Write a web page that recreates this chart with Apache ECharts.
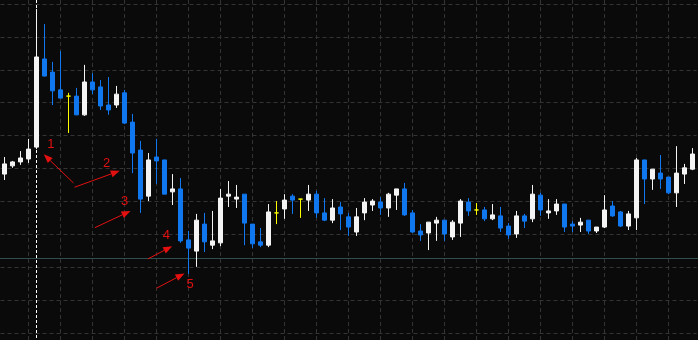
<!DOCTYPE html>
<html>
<head>
<meta charset="utf-8">
<script src="https://cdn.jsdelivr.net/npm/echarts@6/dist/echarts.min.js"></script>
<style>
html,body{margin:0;padding:0;background:#0a0a0a;}
#c{width:698px;height:340px;}
</style>
</head>
<body>
<div id="c"></div>
<script>
// ---- data ----
const opens = [2448.3,2450.8,2452.0,2452.9,2456.5,2483.3,2479.3,2473.9,2472.0,2472.0,
2466.3,2476.3,2474.8,2469.3,2469.3,2473.0,2464.1,2455.6,2441.6,2453.5,
2452.6,2442.9,2443.8,2428.3,2424.9,2433.1,2426.7,2427.4,2441.6,2440.7,
2442.2,2433.1,2427.7,2426.7,2436.5,2437.7,2441.6,2440.7,2440.4,2442.2,
2436.5,2434.3,2438.3,2435.3,2430.7,2436.5,2438.9,2439.8,2438.0,2441.9,
2443.8,2436.5,2431.0,2430.4,2433.4,2434.3,2429.2,2433.4,2439.8,2437.4,
2437.4,2434.7,2435.6,2432.5,2430.1,2435.6,2434.7,2441.9,2436.5,2437.1,
2439.2,2433.1,2432.8,2434.3,2431.0,2432.2,2438.6,2436.8,2432.5,2435.0,
2452.6,2446.8,2448.6,2447.4,2442.6,2448.3,2449.8];
const closes = [2451.4,2452.0,2453.2,2455.9,2483.9,2478.1,2473.6,2471.4,2472.0,2466.3,
2476.3,2473.9,2469.0,2467.8,2472.6,2463.8,2454.7,2440.7,2452.6,2452.3,
2442.2,2443.8,2428.0,2425.8,2434.3,2427.7,2428.0,2441.0,2442.2,2441.3,
2433.4,2427.1,2426.7,2436.8,2436.5,2440.4,2440.4,2440.7,2442.2,2436.5,
2434.3,2438.0,2436.2,2432.2,2435.3,2439.8,2440.1,2438.0,2442.2,2443.8,
2435.9,2430.7,2429.8,2433.7,2434.3,2430.1,2433.7,2440.1,2437.1,2437.4,
2434.7,2435.9,2431.9,2429.8,2435.6,2434.0,2442.2,2437.4,2437.1,2439.2,
2432.2,2432.5,2433.7,2431.0,2432.2,2437.4,2435.6,2432.5,2436.2,2452.6,
2446.8,2449.8,2446.8,2442.6,2448.6,2450.2,2454.4];
const lows = [2446.5,2450.2,2451.1,2451.7,2455.9,2478.0,2469.3,2471.3,2460.8,2466.2,
2466.0,2472.6,2467.8,2466.3,2468.4,2463.5,2448.6,2436.5,2440.1,2445.3,
2442.2,2438.9,2427.4,2417.9,2420.1,2424.6,2425.5,2426.4,2438.3,2438.0,
2426.7,2425.8,2426.1,2426.1,2433.1,2434.7,2436.2,2435.0,2437.1,2435.0,
2434.0,2433.4,2431.3,2429.5,2429.5,2434.3,2437.1,2435.9,2435.3,2437.4,
2435.6,2430.4,2428.0,2425.2,2428.0,2428.0,2428.3,2429.2,2435.6,2435.9,
2434.0,2434.3,2430.7,2428.6,2428.9,2431.9,2433.7,2435.6,2434.7,2435.9,
2430.7,2430.7,2430.7,2430.1,2430.4,2431.9,2435.3,2432.2,2431.3,2431.3,
2439.2,2443.5,2443.8,2442.2,2438.3,2445.3,2449.5];
const highs = [2453.5,2452.3,2455.3,2459.0,2498.5,2493.9,2482.4,2485.7,2473.0,2474.5,
2481.5,2479.0,2476.9,2477.8,2475.1,2473.9,2466.6,2458.4,2454.7,2459.0,
2452.6,2448.3,2447.1,2431.0,2436.2,2436.5,2437.1,2443.8,2446.2,2445.0,
2442.2,2433.1,2431.9,2439.2,2440.1,2442.2,2442.2,2440.7,2445.0,2443.2,
2441.0,2440.7,2439.8,2436.5,2438.0,2441.0,2440.7,2441.3,2442.6,2443.8,
2445.6,2437.4,2433.1,2433.7,2435.3,2434.3,2434.3,2440.7,2441.0,2439.5,
2438.3,2439.2,2438.3,2433.4,2437.1,2436.2,2445.0,2442.6,2440.7,2440.7,
2439.2,2434.0,2435.0,2434.3,2432.2,2441.9,2440.1,2437.1,2437.1,2453.2,
2452.6,2449.8,2454.1,2447.4,2456.8,2451.4,2456.2];
const categories = opens.map((_, i) => String(i + 1));

const priceMin = 2400, priceMax = 2500, priceStep = 10;
const separatorIndex = 4;       // vertical dashed separator bar
const levelPrice = 2422.8;      // horizontal level line
const arrowLabels = ['1','2','3','4','5'];
const arrowTails = [[8.62,2445.6],[8.75,2444.3],[11.29,2432.0],[17.91,2422.5],[19.0,2413.6]];
const arrowTips  = [[4.91,2454.3],[14.41,2449.3],[15.75,2437.1],[20.96,2426.4],[22.5,2418.1]];
const labelPoints = [[5.78,2457.4],[12.75,2451.5],[15.0,2439.9],[20.23,2429.6],[23.2,2414.7]];

const candles = opens.map((o, i) => [o, closes[i], lows[i], highs[i]]);

const BULL = '#f4f4f4', BEAR = '#1177ee', DOJI = '#ffff00', GRID = '#343434';

const chart = echarts.init(document.getElementById('c'), null, {renderer: 'canvas'});
chart.setOption({
  backgroundColor: '#0a0a0a',
  animation: false,
  grid: [
    {left: 0.5, right: 1.5, top: 4, bottom: 7},
    {left: 28, right: 0, top: 0, bottom: 0}
  ],
  xAxis: [
    {type: 'category', data: categories, gridIndex: 0, boundaryGap: true,
     axisLine: {show: false}, axisTick: {show: false}, axisLabel: {show: false}, splitLine: {show: false}},
    {type: 'value', gridIndex: 1, min: 0, max: 83.75, interval: 4,
     axisLine: {show: false}, axisTick: {show: false}, axisLabel: {show: false},
     splitLine: {show: true, showMaxLine: false, lineStyle: {color: GRID, width: 1, type: [4, 3]}}}
  ],
  yAxis: [
    {type: 'value', gridIndex: 0, min: priceMin, max: priceMax, interval: priceStep,
     axisLine: {show: false}, axisTick: {show: false}, axisLabel: {show: false},
     splitLine: {show: true, lineStyle: {color: GRID, width: 1, type: [4, 3]}}},
    {type: 'value', gridIndex: 1, min: 0, max: 1,
     axisLine: {show: false}, axisTick: {show: false}, axisLabel: {show: false}, splitLine: {show: false}}
  ],
  series: [
    {type: 'candlestick', xAxisIndex: 0, yAxisIndex: 0, data: candles,
     barWidth: 4, clip: false,
     itemStyle: {color: BULL, color0: BEAR, borderColor: BULL, borderColor0: BEAR,
                 borderColorDoji: DOJI, borderWidth: 1}},
    {type: 'line', xAxisIndex: 1, yAxisIndex: 1, data: [], silent: true}
  ]
});

// annotations positioned through the chart's own scales
function toPx(idx, price) {
  const a = chart.convertToPixel({gridIndex: 0}, [0, price]);
  const b = chart.convertToPixel({gridIndex: 0}, [1, price]);
  return [a[0] + (b[0] - a[0]) * idx, a[1]];
}
const W = chart.getWidth(), H = chart.getHeight();
const graphics = [];
const sepX = Math.floor(toPx(separatorIndex, priceMin)[0]) + 0.5;
graphics.push({type: 'line', z: 0, silent: true,
  shape: {x1: sepX, y1: 0, x2: sepX, y2: H},
  style: {stroke: '#ffffff', lineWidth: 1, lineDash: [3, 2]}});
const lvY = Math.round(toPx(0, levelPrice)[1]) + 0.5;
graphics.push({type: 'line', z: 0, silent: true,
  shape: {x1: 0, y1: lvY, x2: W, y2: lvY},
  style: {stroke: '#2f4f4f', lineWidth: 1}});
const RED = '#e41010';
arrowTails.forEach((t, i) => {
  const p0 = toPx(t[0], t[1]);
  const p1 = toPx(arrowTips[i][0], arrowTips[i][1]);
  const dx = p1[0] - p0[0], dy = p1[1] - p0[1];
  const len = Math.hypot(dx, dy), ux = dx / len, uy = dy / len;
  const L = 9, HW = 3.5;
  const bx = p1[0] - ux * L, by = p1[1] - uy * L;
  graphics.push({type: 'line', z: 100, silent: true,
    shape: {x1: p0[0], y1: p0[1], x2: bx, y2: by},
    style: {stroke: RED, lineWidth: 1}});
  graphics.push({type: 'polygon', z: 100, silent: true,
    shape: {points: [[p1[0], p1[1]], [bx - uy * HW, by + ux * HW], [bx + uy * HW, by - ux * HW]]},
    style: {fill: RED}});
  const lp = toPx(labelPoints[i][0], labelPoints[i][1]);
  graphics.push({type: 'text', z: 100, silent: true, x: lp[0], y: lp[1],
    style: {text: arrowLabels[i], fill: RED, font: '13px "Liberation Sans", Arial, sans-serif',
            align: 'center', verticalAlign: 'middle'}});
});
chart.setOption({graphic: graphics});
</script>
</body>
</html>
